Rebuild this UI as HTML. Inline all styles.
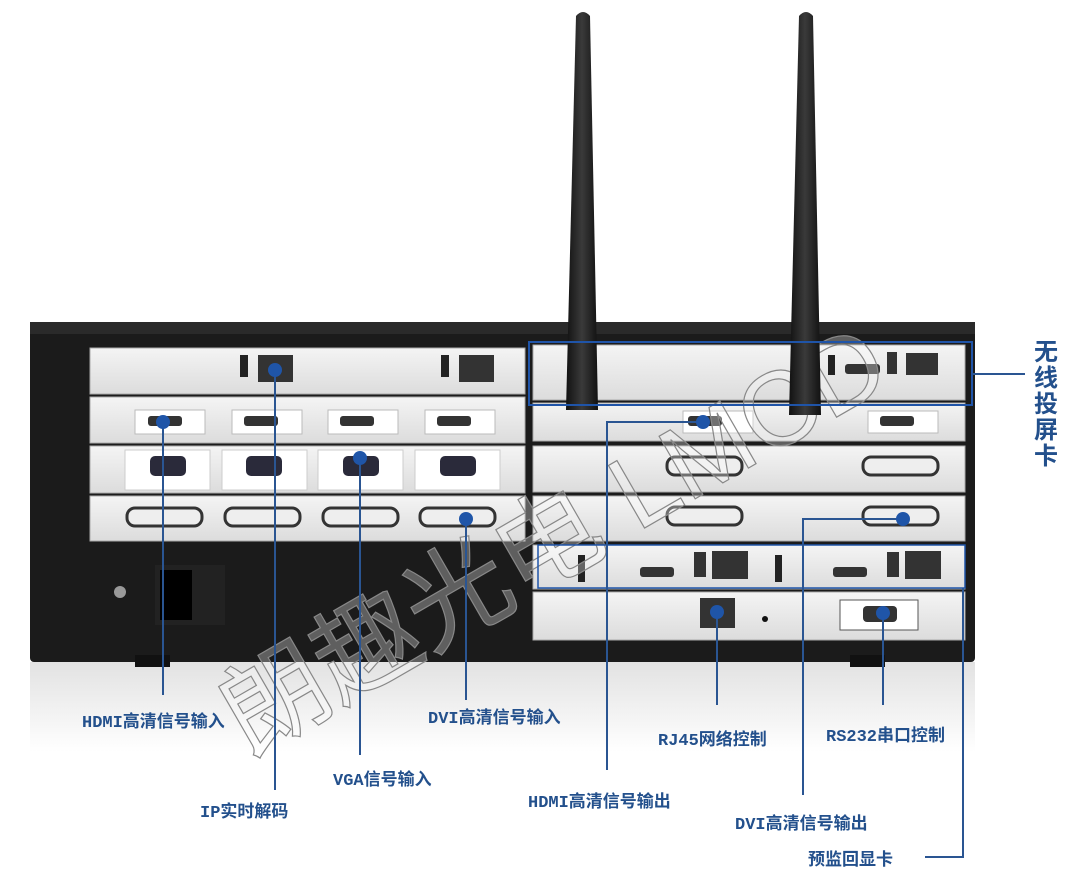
<!DOCTYPE html>
<html><head><meta charset="utf-8"><style>
html,body{margin:0;padding:0;background:#fff;width:1089px;height:886px;overflow:hidden}
svg{display:block}
text{font-family:"Liberation Mono","Noto Sans CJK SC",monospace;font-weight:bold;fill:#23508c}
</style></head><body>
<svg width="1089" height="886" viewBox="0 0 1089 886" xmlns="http://www.w3.org/2000/svg">
<defs>
<linearGradient id="card" x1="0" y1="0" x2="0" y2="1"><stop offset="0" stop-color="#f4f4f4"/><stop offset="1" stop-color="#dcdcdc"/></linearGradient>
<linearGradient id="ant" x1="0" y1="0" x2="1" y2="0"><stop offset="0" stop-color="#111"/><stop offset=".5" stop-color="#3a3a3a"/><stop offset="1" stop-color="#111"/></linearGradient>
<linearGradient id="refl" x1="0" y1="0" x2="0" y2="1"><stop offset="0" stop-color="#e2e2e2"/><stop offset="1" stop-color="#fff"/></linearGradient>
</defs>
<rect x="30" y="662" width="945" height="90" fill="url(#refl)"/>
<rect x="30" y="322" width="945" height="340" rx="4" fill="#1b1b1b"/>
<rect x="30" y="322" width="945" height="12" fill="#2a2a2a"/>
<rect x="135" y="655" width="35" height="12" fill="#111"/>
<rect x="850" y="655" width="35" height="12" fill="#111"/>
<g fill="url(#card)" stroke="#aaa">
<rect x="90" y="348" width="435" height="46"/>
<rect x="90" y="397" width="435" height="46"/>
<rect x="90" y="446" width="435" height="47"/>
<rect x="90" y="496" width="435" height="45"/>
<rect x="533" y="345" width="432" height="55"/>
<rect x="533" y="403" width="432" height="38"/>
<rect x="533" y="446" width="432" height="46"/>
<rect x="533" y="496" width="432" height="45"/>
<rect x="533" y="545" width="432" height="44"/>
<rect x="533" y="592" width="432" height="48"/>
</g>
<rect x="240" y="355" width="8" height="22" fill="#222"/><rect x="258" y="355" width="35" height="27" fill="#333"/>
<rect x="441" y="355" width="8" height="22" fill="#222"/><rect x="459" y="355" width="35" height="27" fill="#333"/>
<g fill="#fff" stroke="#bbb"><rect x="135" y="410" width="70" height="24"/><rect x="232" y="410" width="70" height="24"/><rect x="328" y="410" width="70" height="24"/><rect x="425" y="410" width="70" height="24"/></g>
<g fill="#333"><rect x="148" y="416" width="34" height="10" rx="3"/><rect x="244" y="416" width="34" height="10" rx="3"/><rect x="340" y="416" width="34" height="10" rx="3"/><rect x="437" y="416" width="34" height="10" rx="3"/></g>
<g fill="#fff" stroke="#ccc"><rect x="125" y="450" width="85" height="40"/><rect x="222" y="450" width="85" height="40"/><rect x="318" y="450" width="85" height="40"/><rect x="415" y="450" width="85" height="40"/></g>
<g fill="#2a2a3a"><rect x="150" y="456" width="36" height="20" rx="5"/><rect x="246" y="456" width="36" height="20" rx="5"/><rect x="343" y="456" width="36" height="20" rx="5"/><rect x="440" y="456" width="36" height="20" rx="5"/></g>
<g fill="#eee" stroke="#333" stroke-width="3"><rect x="127" y="508" width="75" height="18" rx="8"/><rect x="225" y="508" width="75" height="18" rx="8"/><rect x="323" y="508" width="75" height="18" rx="8"/><rect x="420" y="508" width="75" height="18" rx="8"/>
<rect x="667" y="457" width="75" height="18" rx="8"/><rect x="863" y="457" width="75" height="18" rx="8"/><rect x="667" y="507" width="75" height="18" rx="8"/><rect x="863" y="507" width="75" height="18" rx="8"/></g>
<rect x="155" y="565" width="70" height="60" fill="#222"/><rect x="160" y="570" width="32" height="50" fill="#000"/>
<circle cx="120" cy="592" r="6" fill="#999"/>
<rect x="828" y="355" width="7" height="20" fill="#222"/><rect x="845" y="364" width="35" height="10" rx="3" fill="#333"/><rect x="887" y="352" width="10" height="22" fill="#333"/><rect x="906" y="353" width="32" height="22" fill="#333"/>
<rect x="683" y="411" width="70" height="22" fill="#fff" stroke="#bbb"/><rect x="688" y="416" width="34" height="10" rx="3" fill="#333"/>
<rect x="868" y="411" width="70" height="22" fill="#fff" stroke="#bbb"/><rect x="880" y="416" width="34" height="10" rx="3" fill="#333"/>
<rect x="578" y="555" width="7" height="27" fill="#222"/><rect x="640" y="567" width="34" height="10" rx="3" fill="#333"/><rect x="694" y="552" width="12" height="25" fill="#333"/><rect x="712" y="551" width="36" height="28" fill="#333"/>
<rect x="775" y="555" width="7" height="27" fill="#222"/><rect x="833" y="567" width="34" height="10" rx="3" fill="#333"/><rect x="887" y="552" width="12" height="25" fill="#333"/><rect x="905" y="551" width="36" height="28" fill="#333"/>
<rect x="700" y="598" width="35" height="30" fill="#333"/><circle cx="765" cy="619" r="3" fill="#111"/>
<rect x="840" y="600" width="78" height="30" fill="#fff" stroke="#555"/><rect x="863" y="606" width="34" height="16" rx="4" fill="#333"/>
<text x="190" y="660" font-size="105" style="font-family:'Liberation Sans','Noto Sans CJK SC',sans-serif;fill:#fff;fill-opacity:.3;stroke:#888;stroke-width:1.2;font-weight:normal" transform="rotate(-30 400 600)">朗趣光电 LMCD</text>
<path d="M576 16 Q583 8 590 16 L598 410 L566 410 Z" fill="url(#ant)"/>
<path d="M799 16 Q806 8 813 16 L821 415 L789 415 Z" fill="url(#ant)"/>
<g fill="none" stroke="#1f54a8" stroke-width="2">
<rect x="529" y="342" width="443" height="63"/>
<rect x="538" y="545" width="427" height="43" stroke-width="1.5"/>
</g>
<g stroke="#2a5592" stroke-width="2" fill="none">
<path d="M163 422 V695"/><path d="M275 370 V790"/><path d="M360 458 V755"/><path d="M466 519 V700"/>
<path d="M703 422 H607 V770"/><path d="M717 612 V705"/><path d="M903 519 H803 V795"/><path d="M883 613 V705"/>
<path d="M963 588 V857 H925"/><path d="M972 374 H1025"/>
</g>
<g fill="#1f55a8"><circle cx="163" cy="422" r="7"/><circle cx="275" cy="370" r="7"/><circle cx="360" cy="458" r="7"/><circle cx="466" cy="519" r="7"/><circle cx="703" cy="422" r="7"/><circle cx="717" cy="612" r="7"/><circle cx="903" cy="519" r="7"/><circle cx="883" cy="613" r="7"/></g>
<g font-size="17">
<text x="82" y="727">HDMI高清信号输入</text>
<text x="200" y="817">IP实时解码</text>
<text x="333" y="785">VGA信号输入</text>
<text x="428" y="723">DVI高清信号输入</text>
<text x="528" y="807">HDMI高清信号输出</text>
<text x="658" y="745">RJ45网络控制</text>
<text x="826" y="741">RS232串口控制</text>
<text x="735" y="829">DVI高清信号输出</text>
<text x="808" y="865">预监回显卡</text>
</g>
<g font-size="24" style="font-weight:normal;font-family:'Noto Sans CJK SC',sans-serif">
<text x="1034" y="360">无</text><text x="1034" y="386">线</text><text x="1034" y="412">投</text><text x="1034" y="438">屏</text><text x="1034" y="464">卡</text>
</g>
</svg>
</body></html>
